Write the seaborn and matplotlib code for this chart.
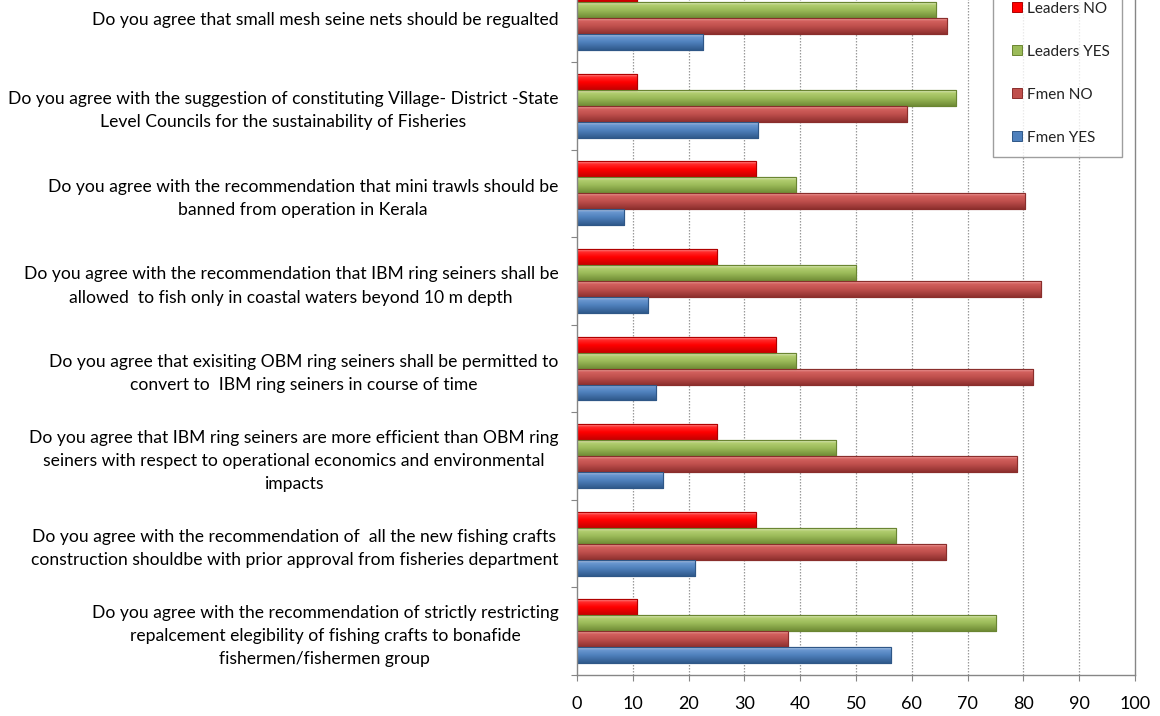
import numpy as np
import pandas as pd
import matplotlib
matplotlib.use("Agg")
import matplotlib.pyplot as plt
from matplotlib.colors import to_rgba
from matplotlib.lines import Line2D
import seaborn as sns

questions = [
    "Do you agree that small mesh seine nets should be regualted",
    "Do you agree with the suggestion of constituting Village- District -State\nLevel Councils for the sustainability of Fisheries",
    "Do you agree with the recommendation that mini trawls should be\nbanned from operation in Kerala",
    "Do you agree with the recommendation that IBM ring seiners shall be\nallowed  to fish only in coastal waters beyond 10 m depth",
    "Do you agree that exisiting OBM ring seiners shall be permitted to\nconvert to  IBM ring seiners in course of time",
    "Do you agree that IBM ring seiners are more efficient than OBM ring\nseiners with respect to operational economics and environmental\nimpacts",
    "Do you agree with the recommendation of  all the new fishing crafts\nconstruction shouldbe with prior approval from fisheries department",
    "Do you agree with the recommendation of strictly restricting\nrepalcement elegibility of fishing crafts to bonafide\nfishermen/fishermen group",
]

series = ["Leaders NO", "Leaders YES", "Fmen NO", "Fmen YES"]

leaders_no = [10.7, 10.7, 32.1, 25.0, 35.7, 25.0, 32.1, 10.7]
leaders_yes = [64.3, 67.9, 39.3, 50.0, 39.3, 46.4, 57.1, 75.0]
fmen_no = [66.3, 59.2, 80.3, 83.1, 81.7, 78.9, 66.2, 37.9]
fmen_yes = [22.5, 32.4, 8.5, 12.7, 14.1, 15.5, 21.1, 56.3]

x_ticks = list(range(0, 101, 10))

# top highlight, light body, body, shaded bottom
shades = {
    "Leaders NO": ["#FF9A9A", "#FF2A2A", "#FF0000", "#C40000"],
    "Leaders YES": ["#E2ECC8", "#B2CD70", "#9BBB59", "#6F8B35"],
    "Fmen NO": ["#F4A6A4", "#D2605D", "#C0504D", "#8E302E"],
    "Fmen YES": ["#B4CCEA", "#6A97CF", "#4F81BD", "#305A8C"],
}
edges = {
    "Leaders NO": "#B00000",
    "Leaders YES": "#6A8532",
    "Fmen NO": "#8A2E2C",
    "Fmen YES": "#2F5787",
}

values = {"Leaders NO": leaders_no, "Leaders YES": leaders_yes,
          "Fmen NO": fmen_no, "Fmen YES": fmen_yes}
df = pd.DataFrame(
    [(q, s, values[s][i]) for i, q in enumerate(questions) for s in series],
    columns=["question", "group", "percent"],
)

sns.set_theme(style="white")
plt.rcParams["font.family"] = ["Lato", "DejaVu Sans"]

W, H = 1160, 716
fig = plt.figure(figsize=(W / 100, H / 100), dpi=100)
left, right, bottom_px, top_px = 577, 1135, 675, -25.5
ax = fig.add_axes([left / W, (H - bottom_px) / H,
                   (right - left) / W, (bottom_px - top_px) / H])

sns.barplot(
    data=df, y="question", x="percent", hue="group",
    order=questions, hue_order=series,
    palette=[shades[s][2] for s in series],
    orient="h", width=0.73, gap=0, legend=False, ax=ax,
    linewidth=0.8, saturation=1,
)


def gradient_image(stops):
    pos = [0.0, 0.18, 0.5, 1.0]
    t = np.linspace(0, 1, 64)
    cols = np.array([to_rgba(c) for c in stops])
    img = np.zeros((64, 1, 4))
    for k in range(4):
        img[:, 0, k] = np.interp(t, pos, cols[:, k])
    return img


for container, name in zip(ax.containers, series):
    img = gradient_image(shades[name])
    for bar in container:
        bar.set_edgecolor(edges[name])
        bar.set_linewidth(0.8)
        x0, y0 = bar.get_x(), bar.get_y()
        w, h = bar.get_width(), bar.get_height()
        im = ax.imshow(img, extent=(x0, x0 + w, y0 + h, y0), origin="upper",
                       aspect="auto", interpolation="bilinear",
                       zorder=bar.get_zorder() + 0.1)
        im.set_clip_path(bar)
        outline = plt.Rectangle((x0, y0), w, h, fill=False, edgecolor=edges[name],
                                linewidth=0.8, zorder=bar.get_zorder() + 0.2)
        ax.add_patch(outline)

ax.set_xlim(0, 100)
ax.set_ylim(len(questions) - 0.5, -0.5)

ax.set_xlabel("")
ax.set_ylabel("")
ax.set_xticks(x_ticks)
ax.set_xticklabels([str(v) for v in x_ticks])
ax.set_yticks(range(len(questions)))
ax.set_yticklabels(questions, multialignment="center", linespacing=1.55)
ax.set_yticks(np.arange(-0.5, len(questions) + 0.5, 1), minor=True)

ax.tick_params(axis="y", which="major", length=0, pad=13.5, labelsize=12.6,
               labelcolor="#000000")
ax.tick_params(axis="y", which="minor", length=4.5, width=0.8, color="#868686",
               direction="out", left=True)
ax.tick_params(axis="x", which="major", length=4.5, width=0.8, color="#868686",
               direction="out", bottom=True, pad=10.5, labelsize=13,
               labelcolor="#000000")

ax.grid(False)
for xv in x_ticks[1:-1]:
    ax.axvline(xv, color="#9A9A9A", linestyle=(0, (1.2, 1.2)), linewidth=0.9, zorder=0)

for side in ["left", "bottom", "right", "top"]:
    ax.spines[side].set_visible(True)
    ax.spines[side].set_color("#868686")
    ax.spines[side].set_linewidth(1.0)

handles = [
    Line2D([], [], linestyle="none", marker="s", markersize=7.2,
           markerfacecolor=shades[s][2], markeredgecolor=edges[s], markeredgewidth=0.7)
    for s in series
]
leg = fig.legend(
    handles, series, loc="lower left",
    bbox_to_anchor=(993 / W, (H - 157) / H),
    frameon=True, fancybox=False, fontsize=11, labelspacing=1.9,
    handlelength=1.5, handletextpad=-0.05, borderpad=0.8, borderaxespad=0,
)
leg.get_frame().set_edgecolor("#868686")
leg.get_frame().set_linewidth(1.0)
leg.get_frame().set_facecolor("white")
for t in leg.get_texts():
    t.set_color("#222222")

fig.savefig("out.png", dpi=100, facecolor="white")
